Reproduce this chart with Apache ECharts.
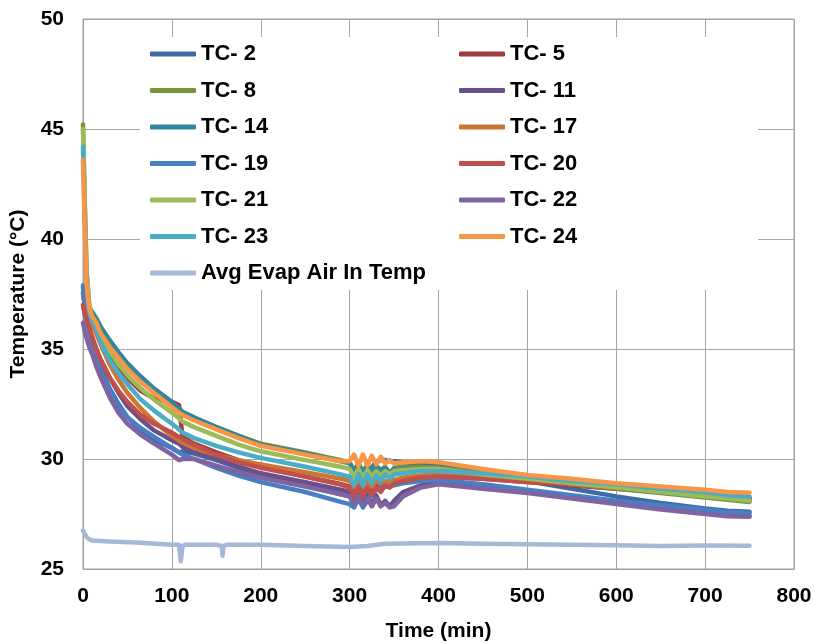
<!DOCTYPE html>
<html>
<head>
<meta charset="utf-8">
<script src="https://cdn.jsdelivr.net/npm/echarts@6/dist/echarts.min.js"></script>
<style>html,body{margin:0;padding:0;background:#fff}#c{width:815px;height:643px}</style>
</head>
<body>
<div id="c"></div>
<script>
// Shared time axis (min) for the thermocouple series
var T = [0, 2, 4, 7, 10, 15, 20, 30, 40, 50, 65, 80, 100, 108, 112, 125, 150, 175, 200, 250, 290, 300, 305, 310, 315, 320, 325, 330, 335, 340, 345, 350, 360, 380, 400, 450, 500, 550, 600, 650, 700, 725, 750];

var TC2  = [37.6, 37.0, 36.5, 35.9, 35.4, 34.7, 34.1, 33.2, 32.5, 31.9, 31.3, 30.85, 30.5, 30.3, 30.35, 30.25, 29.95, 29.6, 29.3, 28.8, 28.4, 28.3, 28.0, 28.5, 28.2, 29.0, 29.6, 29.9, 29.95, 29.95, 29.9, 29.9, 29.85, 29.8, 29.7, 29.4, 29.0, 28.65, 28.3, 28.0, 27.75, 27.65, 27.6];
var TC5  = [37.5, 37.1, 36.9, 36.7, 36.4, 36.0, 35.5, 34.8, 34.2, 33.7, 33.1, 32.75, 32.6, 32.45, 31.0, 30.7, 30.3, 29.95, 29.65, 29.2, 28.85, 28.75, 28.4, 28.8, 28.4, 28.75, 28.45, 28.8, 28.6, 28.85, 28.8, 28.95, 29.05, 29.15, 29.2, 29.1, 28.95, 28.8, 28.65, 28.5, 28.35, 28.2, 28.15];
var TC8  = [45.2, 41.5, 38.5, 37.0, 36.6, 36.3, 35.8, 35.2, 34.7, 34.2, 33.6, 33.1, 32.5, 32.25, 32.1, 31.85, 31.45, 31.05, 30.7, 30.3, 29.95, 29.85, 29.5, 29.8, 29.4, 29.75, 29.4, 29.7, 29.5, 29.65, 29.35, 29.6, 29.65, 29.65, 29.6, 29.35, 29.1, 28.85, 28.65, 28.45, 28.25, 28.15, 28.05];
var TC11 = [37.0, 36.6, 36.3, 35.9, 35.5, 35.0, 34.5, 33.7, 33.0, 32.4, 31.8, 31.3, 30.85, 30.7, 30.55, 30.35, 30.0, 29.65, 29.35, 28.95, 28.6, 28.5, 28.0, 28.4, 27.95, 28.4, 27.9, 28.35, 27.9, 28.1, 27.85, 28.1, 28.5, 28.8, 28.9, 28.7, 28.5, 28.25, 28.0, 27.75, 27.55, 27.45, 27.42];
var TC14 = [37.8, 37.2, 36.9, 36.8, 36.7, 36.4, 36.0, 35.4, 34.85, 34.35, 33.75, 33.2, 32.6, 32.3, 32.15, 31.9, 31.45, 31.05, 30.65, 30.25, 29.9, 29.8, 29.45, 29.75, 29.4, 29.7, 29.4, 29.65, 29.45, 29.6, 29.35, 29.55, 29.55, 29.55, 29.5, 29.3, 29.05, 28.85, 28.7, 28.5, 28.35, 28.2, 28.15];
var TC17 = [37.5, 37.0, 36.7, 36.5, 36.2, 35.7, 35.2, 34.3, 33.6, 33.0, 32.3, 31.7, 31.05, 30.85, 30.75, 30.5, 30.2, 29.95, 29.75, 29.4, 29.1, 29.0, 28.7, 29.05, 28.7, 29.0, 28.75, 29.0, 28.85, 29.0, 28.9, 29.05, 29.15, 29.25, 29.3, 29.2, 29.05, 28.85, 28.7, 28.55, 28.4, 28.3, 28.25];
var TC19 = [37.9, 37.0, 36.4, 35.8, 35.3, 34.6, 34.0, 33.1, 32.4, 31.9, 31.4, 31.0, 30.5, 30.3, 30.2, 30.0, 29.6, 29.25, 28.95, 28.5, 28.05, 27.95, 27.8, 28.2, 27.8, 28.1, 28.4, 28.6, 28.7, 28.75, 28.75, 28.8, 28.9, 29.0, 29.05, 28.85, 28.6, 28.35, 28.1, 27.9, 27.7, 27.6, 27.55];
var TC20 = [37.0, 36.6, 36.3, 36.0, 35.6, 35.0, 34.5, 33.7, 33.1, 32.6, 32.0, 31.6, 31.2, 31.0, 30.9, 30.65, 30.2, 29.85, 29.6, 29.2, 28.85, 28.7, 28.3, 28.75, 28.3, 28.7, 28.35, 28.7, 28.5, 28.8, 28.7, 28.9, 29.0, 29.15, 29.2, 29.1, 28.95, 28.85, 28.7, 28.55, 28.4, 28.25, 28.2];
var TC21 = [45.0, 41.8, 38.6, 37.0, 36.5, 36.1, 35.6, 34.9, 34.3, 33.8, 33.2, 32.7, 32.1, 31.85, 31.7, 31.45, 31.05, 30.65, 30.35, 29.95, 29.65, 29.55, 29.2, 29.55, 29.15, 29.5, 29.2, 29.45, 29.25, 29.45, 29.3, 29.45, 29.5, 29.55, 29.55, 29.3, 29.1, 28.9, 28.7, 28.5, 28.3, 28.2, 28.1];
var TC22 = [36.2, 35.8, 35.5, 35.1, 34.8, 34.2, 33.7, 32.8, 32.1, 31.6, 31.1, 30.7, 30.2, 29.95, 30.0, 30.0, 29.7, 29.4, 29.15, 28.75, 28.4, 28.3, 27.95, 28.3, 27.9, 28.2, 27.85, 28.2, 27.85, 28.0, 27.8, 27.85, 28.3, 28.7, 28.85, 28.65, 28.45, 28.2, 27.95, 27.7, 27.5, 27.4, 27.38];
var TC23 = [44.2, 41.0, 38.2, 36.7, 36.3, 35.9, 35.3, 34.5, 33.9, 33.4, 32.7, 32.2, 31.6, 31.35, 31.2, 30.95, 30.6, 30.3, 30.05, 29.65, 29.3, 29.2, 28.8, 29.3, 28.8, 29.3, 28.9, 29.25, 29.0, 29.3, 29.1, 29.3, 29.35, 29.45, 29.45, 29.35, 29.2, 29.0, 28.85, 28.65, 28.5, 28.35, 28.3];
var TC24 = [43.6, 40.5, 38.0, 36.8, 36.5, 36.2, 35.7, 35.1, 34.6, 34.1, 33.5, 33.0, 32.35, 32.1, 32.0, 31.75, 31.35, 30.95, 30.6, 30.2, 29.9, 29.9, 30.2, 29.7, 30.2, 29.7, 30.15, 29.75, 30.1, 29.8, 29.95, 29.8, 29.85, 29.9, 29.85, 29.55, 29.27, 29.1, 28.9, 28.75, 28.6, 28.5, 28.47];

// Average evaporator air-in temperature
var AVG_T = [0, 2, 5, 10, 30, 60, 100, 108, 110, 112, 115, 150, 156, 157, 158, 162, 200, 250, 300, 320, 340, 400, 450, 500, 550, 600, 650, 700, 750];
var AVG   = [26.75, 26.6, 26.4, 26.3, 26.25, 26.2, 26.1, 26.1, 25.35, 26.05, 26.1, 26.1, 26.05, 25.6, 26.05, 26.1, 26.1, 26.05, 26.0, 26.05, 26.15, 26.18, 26.15, 26.13, 26.1, 26.08, 26.05, 26.07, 26.06];

var X_TICKS = [0, 100, 200, 300, 400, 500, 600, 700, 800];
var Y_TICKS = [25, 30, 35, 40, 45, 50];

var seriesDefs = [
  ['TC- 2', TC2, '#3F6AA6'],
  ['TC- 5', TC5, '#9E3B3A'],
  ['TC- 8', TC8, '#77933C'],
  ['TC- 11', TC11, '#6A4F8C'],
  ['TC- 14', TC14, '#31859C'],
  ['TC- 17', TC17, '#CC7633'],
  ['TC- 19', TC19, '#4A7EC2'],
  ['TC- 20', TC20, '#C0504D'],
  ['TC- 21', TC21, '#9BBB59'],
  ['TC- 22', TC22, '#8064A2'],
  ['TC- 23', TC23, '#4BACC6'],
  ['TC- 24', TC24, '#F79646']
];

var series = seriesDefs.map(function (d) {
  return {
    name: d[0], type: 'line', showSymbol: false, symbol: 'none', animation: false,
    lineStyle: { width: 4.5, color: d[2], cap: 'round', join: 'round' },
    itemStyle: { color: d[2] },
    data: T.map(function (t, i) { return [t, d[1][i]]; }),
    z: 3
  };
});
series.push({
  name: 'Avg Evap Air In Temp', type: 'line', showSymbol: false, symbol: 'none', animation: false,
  lineStyle: { width: 4.5, color: '#A5B8D8', cap: 'round', join: 'round' },
  itemStyle: { color: '#A5B8D8' },
  data: AVG_T.map(function (t, i) { return [t, AVG[i]]; }),
  z: 3
});

var legendText = { fontFamily: 'Liberation Sans, Arial, sans-serif', fontWeight: 'bold', fontSize: 22, color: '#000', lineHeight: 24 };
var legendCommon = {
  orient: 'vertical', top: 42, padding: 0, itemGap: 12.5, itemWidth: 46, itemHeight: 5,
  icon: 'roundRect', textStyle: legendText, selectedMode: false, z: 5
};

var font = 'Liberation Sans, Arial, sans-serif';
var chart = echarts.init(document.getElementById('c'), null, { renderer: 'canvas' });
chart.setOption({
  backgroundColor: '#fff',
  animation: false,
  grid: { left: 83, right: 21, top: 19, bottom: 74, show: true, borderColor: '#A0A0A0', borderWidth: 1, containLabel: false, outerBoundsMode: 'none' },
  graphic: [{ type: 'rect', shape: { x: 140, y: 37, width: 618, height: 253 }, style: { fill: '#fff' }, z: 1 }],
  legend: [
    Object.assign({ left: 150, data: ['TC- 2', 'TC- 8', 'TC- 14', 'TC- 19', 'TC- 21', 'TC- 23', 'Avg Evap Air In Temp'] }, legendCommon),
    Object.assign({ left: 459, data: ['TC- 5', 'TC- 11', 'TC- 17', 'TC- 20', 'TC- 22', 'TC- 24'] }, legendCommon)
  ],
  xAxis: {
    type: 'value', min: X_TICKS[0], max: X_TICKS[X_TICKS.length - 1], interval: 100,
    name: 'Time (min)', nameLocation: 'middle', nameGap: 52,
    nameTextStyle: { fontFamily: font, fontWeight: 'bold', fontSize: 21, color: '#000' },
    axisLine: { show: true, lineStyle: { color: '#A0A0A0', width: 1 } },
    axisTick: { show: false },
    axisLabel: { fontFamily: font, fontWeight: 'bold', fontSize: 21, color: '#000', margin: 17 },
    splitLine: { show: true, lineStyle: { color: '#A6A6A6', width: 1 } }
  },
  yAxis: {
    type: 'value', min: Y_TICKS[0], max: Y_TICKS[Y_TICKS.length - 1], interval: 5,
    name: 'Temperature (°C)', nameLocation: 'middle', nameGap: 54, nameRotate: 90,
    nameTextStyle: { fontFamily: font, fontWeight: 'bold', fontSize: 21, color: '#000' },
    axisLine: { show: true, lineStyle: { color: '#A0A0A0', width: 1 } },
    axisTick: { show: false },
    axisLabel: { fontFamily: font, fontWeight: 'bold', fontSize: 21, color: '#000', margin: 19 },
    splitLine: { show: true, lineStyle: { color: '#A6A6A6', width: 1 } }
  },
  series: series
});
</script>
</body>
</html>
